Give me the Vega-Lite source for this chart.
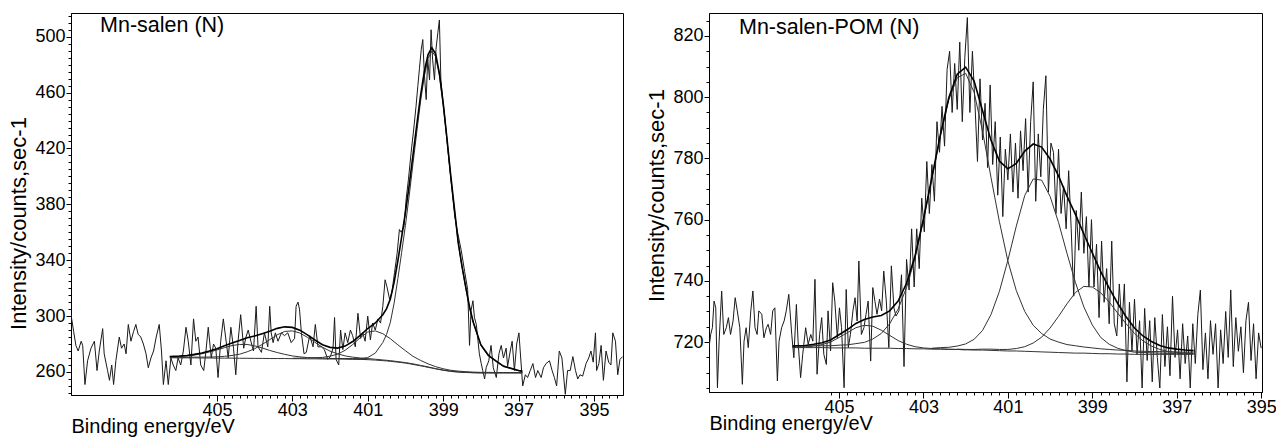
{
  "$schema": "https://vega.github.io/schema/vega-lite/v6.json",
  "background": "white",
  "padding": {"left": 7, "top": 12, "right": 0, "bottom": 0},
  "spacing": 21,
  "config": {
    "view": {"stroke": "black", "strokeWidth": 1},
    "axis": {"grid": false, "domainColor": "black", "tickColor": "black", "labelColor": "black", "titleColor": "black", "labelFont": "Liberation Sans", "titleFont": "Liberation Sans", "labelFontSize": 18, "titleFontSize": 22, "titleFontWeight": "normal", "labelOverlap": false, "labelFlush": false}
  },
  "datasets": {
    "labels": [
      {"panel": "L", "E": 408.1, "I": 503.6, "label": "Mn-salen (N)"},
      {"panel": "R", "E": 407.37, "I": 820.7, "label": "Mn-salen-POM (N)"}
    ],
    "rawL": [
      {"E":408.87,"I":301},{"E":408.80,"I":289},{"E":408.74,"I":279},{"E":408.68,"I":275},{"E":408.60,"I":282},{"E":408.56,"I":279},{"E":408.50,"I":251},{"E":408.43,"I":268},{"E":408.34,"I":277},{"E":408.25,"I":282},{"E":408.18,"I":261},{"E":408.12,"I":275},{"E":408.03,"I":291},{"E":407.99,"I":273},{"E":407.90,"I":261},{"E":407.85,"I":254},{"E":407.79,"I":265},{"E":407.74,"I":251},{"E":407.68,"I":268},{"E":407.59,"I":285},{"E":407.53,"I":277},{"E":407.46,"I":280},{"E":407.41,"I":273},{"E":407.35,"I":294},{"E":407.28,"I":282},{"E":407.21,"I":289},{"E":407.15,"I":294},{"E":407.09,"I":287},{"E":407.02,"I":285},{"E":406.95,"I":280},{"E":406.88,"I":273},{"E":406.82,"I":263},{"E":406.75,"I":270},{"E":406.68,"I":275},{"E":406.61,"I":285},{"E":406.53,"I":294},{"E":406.47,"I":275},{"E":406.42,"I":251},{"E":406.35,"I":268},{"E":406.29,"I":251},{"E":406.22,"I":270},{"E":406.16,"I":265},{"E":406.09,"I":261},{"E":406.03,"I":270},{"E":405.96,"I":265},{"E":405.89,"I":275},{"E":405.82,"I":292},{"E":405.76,"I":282},{"E":405.69,"I":265},{"E":405.62,"I":298},{"E":405.56,"I":282},{"E":405.50,"I":285},{"E":405.43,"I":265},{"E":405.35,"I":261},{"E":405.29,"I":275},{"E":405.23,"I":292},{"E":405.15,"I":270},{"E":405.09,"I":280},{"E":405.03,"I":277},{"E":404.97,"I":256},{"E":404.90,"I":282},{"E":404.83,"I":298},{"E":404.77,"I":285},{"E":404.70,"I":270},{"E":404.63,"I":292},{"E":404.56,"I":277},{"E":404.50,"I":258},{"E":404.44,"I":282},{"E":404.37,"I":301},{"E":404.29,"I":277},{"E":404.23,"I":285},{"E":404.17,"I":290},{"E":404.10,"I":282},{"E":404.03,"I":275},{"E":403.96,"I":307},{"E":403.91,"I":278},{"E":403.82,"I":274},{"E":403.74,"I":288},{"E":403.65,"I":278},{"E":403.60,"I":307},{"E":403.56,"I":288},{"E":403.51,"I":281},{"E":403.45,"I":288},{"E":403.38,"I":282},{"E":403.29,"I":288},{"E":403.21,"I":286},{"E":403.12,"I":288},{"E":403.03,"I":281},{"E":402.94,"I":284},{"E":402.90,"I":307},{"E":402.85,"I":310},{"E":402.81,"I":305},{"E":402.76,"I":288},{"E":402.69,"I":273},{"E":402.63,"I":274},{"E":402.54,"I":286},{"E":402.45,"I":278},{"E":402.39,"I":294},{"E":402.32,"I":278},{"E":402.23,"I":278},{"E":402.15,"I":276},{"E":402.06,"I":269},{"E":401.99,"I":271},{"E":401.92,"I":277},{"E":401.88,"I":299},{"E":401.84,"I":269},{"E":401.77,"I":265},{"E":401.72,"I":290},{"E":401.66,"I":276},{"E":401.60,"I":288},{"E":401.53,"I":281},{"E":401.46,"I":290},{"E":401.40,"I":286},{"E":401.33,"I":278},{"E":401.26,"I":302},{"E":401.19,"I":284},{"E":401.13,"I":288},{"E":401.07,"I":282},{"E":401.00,"I":300},{"E":400.93,"I":283},{"E":400.87,"I":295},{"E":400.80,"I":290},{"E":400.73,"I":298},{"E":400.66,"I":295},{"E":400.60,"I":307},{"E":400.54,"I":326},{"E":400.49,"I":321},{"E":400.42,"I":312},{"E":400.36,"I":317},{"E":400.29,"I":331},{"E":400.22,"I":345},{"E":400.16,"I":362},{"E":400.11,"I":360},{"E":400.04,"I":364},{"E":399.98,"I":384},{"E":399.92,"I":398},{"E":399.85,"I":417},{"E":399.78,"I":434},{"E":399.72,"I":450},{"E":399.67,"I":465},{"E":399.63,"I":477},{"E":399.58,"I":491},{"E":399.54,"I":498},{"E":399.50,"I":474},{"E":399.45,"I":455},{"E":399.41,"I":484},{"E":399.36,"I":469},{"E":399.32,"I":505},{"E":399.28,"I":484},{"E":399.23,"I":469},{"E":399.19,"I":491},{"E":399.14,"I":503},{"E":399.10,"I":512},{"E":399.06,"I":469},{"E":399.01,"I":455},{"E":398.97,"I":446},{"E":398.87,"I":418},{"E":398.78,"I":394},{"E":398.69,"I":371},{"E":398.61,"I":359},{"E":398.52,"I":347},{"E":398.43,"I":332},{"E":398.35,"I":319},{"E":398.30,"I":279},{"E":398.26,"I":304},{"E":398.21,"I":311},{"E":398.17,"I":299},{"E":398.12,"I":294},{"E":398.04,"I":273},{"E":397.99,"I":266},{"E":397.95,"I":261},{"E":397.90,"I":255},{"E":397.86,"I":263},{"E":397.79,"I":268},{"E":397.73,"I":279},{"E":397.67,"I":263},{"E":397.59,"I":256},{"E":397.52,"I":273},{"E":397.46,"I":279},{"E":397.40,"I":270},{"E":397.33,"I":277},{"E":397.29,"I":264},{"E":397.22,"I":275},{"E":397.17,"I":282},{"E":397.11,"I":261},{"E":397.05,"I":280},{"E":396.99,"I":288},{"E":396.93,"I":265},{"E":396.89,"I":250},{"E":396.82,"I":258},{"E":396.76,"I":256},{"E":396.69,"I":261},{"E":396.62,"I":266},{"E":396.55,"I":256},{"E":396.49,"I":261},{"E":396.40,"I":256},{"E":396.34,"I":263},{"E":396.27,"I":266},{"E":396.18,"I":268},{"E":396.11,"I":261},{"E":396.05,"I":256},{"E":395.99,"I":250},{"E":395.92,"I":275},{"E":395.85,"I":270},{"E":395.76,"I":244},{"E":395.70,"I":261},{"E":395.63,"I":261},{"E":395.56,"I":271},{"E":395.49,"I":261},{"E":395.43,"I":255},{"E":395.37,"I":258},{"E":395.30,"I":257},{"E":395.21,"I":266},{"E":395.14,"I":270},{"E":395.08,"I":275},{"E":395.02,"I":267},{"E":394.96,"I":288},{"E":394.93,"I":261},{"E":394.87,"I":266},{"E":394.81,"I":279},{"E":394.75,"I":254},{"E":394.68,"I":275},{"E":394.61,"I":267},{"E":394.55,"I":265},{"E":394.50,"I":288},{"E":394.43,"I":282},{"E":394.37,"I":258},{"E":394.31,"I":269},{"E":394.24,"I":271}
    ],
    "fitL": [
      {"E":406.25,"bg":270.2,"a":270.8,"b":270.5,"env":271.1},
      {"E":406.0,"bg":270.1,"a":271.0,"b":270.5,"env":271.4},
      {"E":405.8,"bg":270.1,"a":271.4,"b":270.5,"env":271.8},
      {"E":405.6,"bg":270.1,"a":272.1,"b":270.6,"env":272.6},
      {"E":405.4,"bg":270.0,"a":273.0,"b":270.6,"env":273.6},
      {"E":405.2,"bg":270.0,"a":274.3,"b":270.7,"env":275.0},
      {"E":405.0,"bg":269.9,"a":275.7,"b":270.8,"env":276.6},
      {"E":404.8,"bg":269.9,"a":277.4,"b":271.2,"env":278.7},
      {"E":404.6,"bg":269.9,"a":278.9,"b":271.8,"env":280.8},
      {"E":404.4,"bg":269.8,"a":279.7,"b":272.7,"env":282.6},
      {"E":404.2,"bg":269.8,"a":279.7,"b":274.4,"env":284.5},
      {"E":404.0,"bg":269.7,"a":278.7,"b":276.6,"env":285.8},
      {"E":403.8,"bg":269.7,"a":277.2,"b":279.7,"env":287.4},
      {"E":403.6,"bg":269.6,"a":275.4,"b":283.1,"env":289.1},
      {"E":403.4,"bg":269.6,"a":273.9,"b":286.6,"env":291.2},
      {"E":403.2,"bg":269.6,"a":272.6,"b":289.0,"env":292.3},
      {"E":403.0,"bg":269.5,"a":271.5,"b":289.4,"c":269.8,"env":291.9},
      {"E":402.8,"bg":269.5,"a":270.8,"b":287.9,"c":269.9,"env":289.9},
      {"E":402.6,"bg":269.4,"a":270.3,"b":284.8,"c":270.0,"env":286.5},
      {"E":402.4,"bg":269.4,"a":270.0,"b":281.2,"c":270.2,"env":282.9},
      {"E":402.2,"bg":269.3,"a":269.8,"b":277.7,"c":270.4,"env":279.5},
      {"E":402.0,"bg":269.3,"a":269.7,"b":274.9,"c":271.3,"m":269.6,"env":277.6},
      {"E":401.8,"bg":269.3,"a":269.6,"b":273.0,"c":272.7,"m":269.6,"env":277.1},
      {"E":401.6,"bg":269.2,"a":269.5,"b":271.5,"c":275.5,"m":269.6,"env":278.5},
      {"E":401.4,"bg":269.1,"a":269.3,"b":270.6,"c":279.6,"m":269.5,"env":281.8},
      {"E":401.2,"bg":269.0,"a":269.2,"b":270.0,"c":284.5,"m":269.5,"env":286.2},
      {"E":401.0,"bg":268.8,"a":269.0,"b":269.6,"c":288.6,"m":270.3,"env":291.1},
      {"E":400.8,"bg":268.5,"b":269.1,"c":289.4,"m":273.5,"env":295.1},
      {"E":400.6,"bg":268.1,"b":268.6,"c":287.4,"m":281.1,"env":301.0},
      {"E":400.5,"bg":267.9,"m":286.9,"env":305.4},
      {"E":400.4,"bg":267.6,"b":268.1,"c":283.8,"m":295.6,"env":312.3},
      {"E":400.3,"bg":267.3,"m":309.3,"env":324.1},
      {"E":400.2,"bg":267.0,"b":267.4,"c":279.4,"m":327.0,"env":339.8},
      {"E":400.1,"bg":266.7,"m":345.7,"env":356.7},
      {"E":400.0,"bg":266.3,"b":266.7,"c":275.2,"m":365.0,"env":374.3},
      {"E":399.9,"bg":265.9,"m":386.2,"env":393.8},
      {"E":399.8,"bg":265.4,"b":265.8,"c":271.2,"m":409.1,"env":415.3},
      {"E":399.7,"bg":264.9,"m":431.7,"env":436.8},
      {"E":399.6,"bg":264.4,"b":264.7,"c":268.3,"m":453.5,"env":457.7},
      {"E":399.5,"bg":263.9,"m":471.6,"env":475.0},
      {"E":399.4,"bg":263.3,"b":263.6,"c":265.8,"m":484.4,"env":487.2},
      {"E":399.3,"bg":262.8,"m":489.7,"env":492.0},
      {"E":399.2,"bg":262.2,"b":262.4,"c":263.8,"m":485.8,"env":487.7},
      {"E":399.1,"bg":261.7,"m":472.4,"env":473.9},
      {"E":399.0,"bg":261.2,"b":261.4,"c":262.3,"m":451.4,"env":452.7},
      {"E":398.9,"bg":260.8,"m":426.5,"env":427.5},
      {"E":398.8,"bg":260.4,"b":260.6,"c":261.2,"m":400.0,"env":400.9},
      {"E":398.7,"bg":260.1,"m":376.0,"env":376.8},
      {"E":398.6,"bg":259.9,"b":260.1,"c":260.6,"m":352.0,"env":352.7},
      {"E":398.5,"bg":259.7,"m":335.0,"env":335.7},
      {"E":398.4,"bg":259.6,"b":259.8,"c":260.2,"m":320.0,"env":320.7},
      {"E":398.3,"bg":259.5,"m":306.0,"env":306.6},
      {"E":398.2,"bg":259.4,"b":259.5,"c":259.9,"m":295.0,"env":295.6},
      {"E":398.0,"bg":259.3,"b":259.4,"c":259.7,"m":279.0,"env":279.5},
      {"E":397.8,"bg":259.3,"c":259.7,"m":271.5,"env":271.9},
      {"E":397.6,"bg":259.3,"c":259.6,"m":267.5,"env":267.9},
      {"E":397.4,"bg":259.3,"c":259.6,"m":263.8,"env":264.2},
      {"E":397.2,"bg":259.3,"c":259.6,"m":262.3,"env":262.6},
      {"E":397.0,"bg":259.3,"b":259.4,"c":259.5,"m":260.8,"env":261.1},
      {"E":396.9,"bg":259.3,"b":259.4,"c":259.5,"m":260.3,"env":260.6}
    ],
    "rawR": [
      {"E":408.08,"I":718.2},{"E":408.04,"I":722.5},{"E":408.0,"I":724.7},{"E":407.96,"I":733.4},{"E":407.92,"I":731.2},{"E":407.88,"I":705.1},{"E":407.84,"I":720.3},{"E":407.78,"I":736.7},{"E":407.73,"I":722.5},{"E":407.67,"I":724.7},{"E":407.62,"I":728},{"E":407.57,"I":722.5},{"E":407.51,"I":726.9},{"E":407.46,"I":734.5},{"E":407.41,"I":730.2},{"E":407.35,"I":724.7},{"E":407.29,"I":706.2},{"E":407.25,"I":720.3},{"E":407.2,"I":724.7},{"E":407.15,"I":718.2},{"E":407.09,"I":730.2},{"E":407.04,"I":736.7},{"E":406.99,"I":724.7},{"E":406.94,"I":722.5},{"E":406.9,"I":730.2},{"E":406.83,"I":729.1},{"E":406.78,"I":721.4},{"E":406.72,"I":724.7},{"E":406.68,"I":725.8},{"E":406.62,"I":722.5},{"E":406.57,"I":730.2},{"E":406.52,"I":731.2},{"E":406.46,"I":707.3},{"E":406.42,"I":720.3},{"E":406.36,"I":724.7},{"E":406.3,"I":726.9},{"E":406.25,"I":730.2},{"E":406.19,"I":735.6},{"E":406.12,"I":722.5},{"E":406.07,"I":714.9},{"E":406.01,"I":732.3},{"E":405.97,"I":720.3},{"E":405.91,"I":708.4},{"E":405.86,"I":716},{"E":405.79,"I":724.7},{"E":405.73,"I":719.3},{"E":405.67,"I":722.5},{"E":405.62,"I":720.3},{"E":405.57,"I":740.5},{"E":405.52,"I":709.5},{"E":405.46,"I":722.5},{"E":405.41,"I":728},{"E":405.36,"I":716},{"E":405.3,"I":712.7},{"E":405.26,"I":730.2},{"E":405.2,"I":717.1},{"E":405.15,"I":739.4},{"E":405.1,"I":733.4},{"E":405.04,"I":721.4},{"E":404.99,"I":731.2},{"E":404.94,"I":724.7},{"E":404.88,"I":705.1},{"E":404.83,"I":737.2},{"E":404.78,"I":718.2},{"E":404.73,"I":722.5},{"E":404.67,"I":730.2},{"E":404.62,"I":734.5},{"E":404.57,"I":726.9},{"E":404.53,"I":746.5},{"E":404.47,"I":722.5},{"E":404.41,"I":724.7},{"E":404.36,"I":729.1},{"E":404.31,"I":733.4},{"E":404.25,"I":713.8},{"E":404.2,"I":737.8},{"E":404.15,"I":733.4},{"E":404.1,"I":729.1},{"E":404.04,"I":734},{"E":403.99,"I":730.2},{"E":403.94,"I":743.2},{"E":403.88,"I":733.4},{"E":403.82,"I":718.2},{"E":403.76,"I":744.9},{"E":403.7,"I":731.2},{"E":403.65,"I":728.5},{"E":403.58,"I":730.2},
      {"E":403.52,"I":742},{"E":403.46,"I":712},{"E":403.40,"I":747},{"E":403.34,"I":737},{"E":403.28,"I":757},{"E":403.22,"I":738},{"E":403.16,"I":757},{"E":403.10,"I":744},{"E":403.04,"I":767},{"E":402.98,"I":756},{"E":402.92,"I":779},{"E":402.86,"I":762},{"E":402.80,"I":778},{"E":402.74,"I":766},{"E":402.68,"I":792},{"E":402.62,"I":782},{"E":402.56,"I":797},{"E":402.50,"I":784},{"E":402.44,"I":809},{"E":402.38,"I":815},{"E":402.32,"I":795},{"E":402.26,"I":811},{"E":402.20,"I":796},{"E":402.14,"I":818},{"E":402.08,"I":792},{"E":402.02,"I":813},{"E":401.96,"I":826},{"E":401.90,"I":795},{"E":401.84,"I":815},{"E":401.78,"I":798},{"E":401.72,"I":779},{"E":401.66,"I":806},{"E":401.60,"I":786},{"E":401.54,"I":798},{"E":401.48,"I":777},{"E":401.42,"I":804},{"E":401.36,"I":778},{"E":401.30,"I":792},{"E":401.24,"I":768},{"E":401.18,"I":787},{"E":401.12,"I":761},{"E":401.06,"I":783},{"E":401.00,"I":773},{"E":400.94,"I":788},{"E":400.88,"I":769},{"E":400.82,"I":785},{"E":400.76,"I":767},{"E":400.70,"I":789},{"E":400.64,"I":776},{"E":400.58,"I":793},{"E":400.52,"I":769},{"E":400.46,"I":792},{"E":400.40,"I":805},{"E":400.34,"I":766},{"E":400.28,"I":788},{"E":400.22,"I":774},{"E":400.16,"I":796},{"E":400.10,"I":807},{"E":400.04,"I":769},{"E":399.98,"I":785},{"E":399.92,"I":782},{"E":399.86,"I":762},{"E":399.80,"I":783},{"E":399.74,"I":762},{"E":399.68,"I":771},{"E":399.62,"I":757},{"E":399.56,"I":776},{"E":399.50,"I":757},{"E":399.44,"I":735},{"E":399.38,"I":763},{"E":399.32,"I":750},{"E":399.26,"I":769},{"E":399.20,"I":749},{"E":399.14,"I":761},{"E":399.08,"I":738},{"E":399.02,"I":760},{"E":398.96,"I":738},{"E":398.90,"I":752},{"E":398.84,"I":728},{"E":398.78,"I":753},{"E":398.72,"I":733},{"E":398.66,"I":744},{"E":398.60,"I":726},{"E":398.54,"I":753},{"E":398.48,"I":726},{"E":398.42,"I":722},{"E":398.36,"I":739},{"E":398.30,"I":725},{"E":398.24,"I":739},{"E":398.18,"I":707},{"E":398.12,"I":733},{"E":398.06,"I":717},{"E":398.00,"I":734},{"E":397.94,"I":716},{"E":397.88,"I":727},{"E":397.82,"I":705},{"E":397.76,"I":731},{"E":397.70,"I":714},{"E":397.64,"I":727},{"E":397.58,"I":707},{"E":397.52,"I":728},{"E":397.46,"I":715},{"E":397.40,"I":705},{"E":397.34,"I":729},{"E":397.28,"I":712},{"E":397.22,"I":725},{"E":397.16,"I":709},{"E":397.10,"I":735},{"E":397.04,"I":715},{"E":396.98,"I":724},{"E":396.92,"I":708},{"E":396.86,"I":726},{"E":396.80,"I":713},{"E":396.74,"I":722},{"E":396.68,"I":705},{"E":396.62,"I":726},{"E":396.56,"I":713},{"E":396.50,"I":729},{"E":396.44,"I":737},{"E":396.38,"I":711},{"E":396.32,"I":723},{"E":396.26,"I":708},{"E":396.20,"I":727},{"E":396.14,"I":716},{"E":396.08,"I":726},{"E":396.02,"I":705},{"E":395.96,"I":724},{"E":395.90,"I":713},{"E":395.84,"I":730},{"E":395.78,"I":715},{"E":395.72,"I":737},{"E":395.66,"I":712},{"E":395.60,"I":728},{"E":395.54,"I":717},{"E":395.48,"I":725},{"E":395.42,"I":710},{"E":395.36,"I":727},{"E":395.30,"I":733},{"E":395.24,"I":714},{"E":395.18,"I":726},{"E":395.12,"I":708},{"E":395.06,"I":723},{"E":395.00,"I":718}
    ],
    "fitR": [
      {"E":406.1,"bg":718.2,"p1":718.3,"p2":718.6,"env":718.7},
      {"E":406.0,"bg":718.2,"p1":718.3,"p2":718.7,"env":718.8},
      {"E":405.8,"bg":718.2,"p1":718.4,"p2":718.7,"env":718.9},
      {"E":405.6,"bg":718.2,"p1":718.7,"p2":718.8,"env":719.3},
      {"E":405.4,"bg":718.2,"p1":719.2,"p2":718.8,"env":719.8},
      {"E":405.2,"bg":718.1,"p1":720.0,"p2":718.8,"env":720.7},
      {"E":405.0,"bg":718.1,"p1":721.5,"p2":719.0,"env":722.4},
      {"E":404.8,"bg":718.1,"p1":723.1,"p2":719.1,"env":724.1},
      {"E":404.6,"bg":718.1,"p1":724.7,"p2":719.5,"env":726.1},
      {"E":404.4,"bg":718.0,"p1":725.5,"p2":719.9,"env":727.4},
      {"E":404.2,"bg":718.0,"p1":725.2,"p2":721.0,"env":728.2},
      {"E":404.0,"bg":718.0,"p1":723.9,"p2":722.8,"env":728.7},
      {"E":403.8,"bg":718.0,"p1":722.2,"p2":726.0,"env":730.2},
      {"E":403.6,"bg":717.9,"p1":720.5,"p2":730.8,"env":733.4},
      {"E":403.4,"bg":717.9,"p1":719.3,"p2":737.8,"env":739.2},
      {"E":403.2,"bg":717.8,"p1":718.5,"p2":747.4,"env":748.1},
      {"E":403.0,"bg":717.8,"p1":718.1,"p2":759.9,"env":760.2},
      {"E":402.8,"bg":717.7,"p1":717.9,"p2":773.3,"p3":718.0,"env":773.8},
      {"E":402.6,"bg":717.7,"p1":717.8,"p2":787.1,"p3":718.2,"env":787.7},
      {"E":402.4,"bg":717.6,"p1":717.7,"p2":799.1,"p3":718.3,"env":799.8},
      {"E":402.2,"bg":717.6,"p1":717.6,"p2":806.3,"p3":718.7,"p4":717.7,"env":807.5},
      {"E":402.0,"bg":717.5,"p1":717.5,"p2":807.8,"p3":719.4,"p4":717.6,"env":809.8},
      {"E":401.8,"bg":717.4,"p2":801.6,"p3":720.9,"p4":717.6,"env":805.3},
      {"E":401.6,"bg":717.4,"p2":788.9,"p3":723.8,"p4":717.7,"env":795.6},
      {"E":401.4,"bg":717.3,"p2":773.8,"p3":729.0,"p4":717.7,"env":785.9},
      {"E":401.2,"bg":717.2,"p2":759.3,"p3":736.6,"p4":717.6,"env":779.1},
      {"E":401.0,"bg":717.1,"p2":746.5,"p3":746.7,"p4":717.6,"env":776.6},
      {"E":400.8,"bg":717.1,"p2":736.8,"p3":757.9,"p4":717.9,"env":778.4},
      {"E":400.6,"bg":717.0,"p2":730.0,"p3":767.9,"p4":718.5,"env":782.4},
      {"E":400.4,"bg":716.9,"p2":725.5,"p3":773.3,"p4":719.7,"env":784.7},
      {"E":400.2,"bg":716.8,"p2":722.8,"p3":772.9,"p4":721.6,"env":783.7},
      {"E":400.0,"bg":716.7,"p2":721.0,"p3":767.6,"p4":724.6,"env":779.8},
      {"E":399.8,"bg":716.6,"p2":720.0,"p3":759.1,"p4":728.4,"env":774.3},
      {"E":399.6,"bg":716.5,"p2":719.2,"p3":749.0,"p4":732.5,"env":767.7},
      {"E":399.4,"bg":716.4,"p2":718.8,"p3":739.5,"p4":736.2,"env":761.7},
      {"E":399.2,"bg":716.4,"p2":718.4,"p3":731.5,"p4":738.2,"env":755.3},
      {"E":399.0,"bg":716.3,"p2":718.1,"p3":725.6,"p4":738.0,"env":749.1},
      {"E":398.8,"bg":716.2,"p2":717.8,"p3":721.5,"p4":736.1,"env":743.0},
      {"E":398.6,"bg":716.2,"p2":717.6,"p3":719.3,"p4":733.1,"env":737.6},
      {"E":398.4,"bg":716.1,"p2":717.4,"p3":718.0,"p4":729.5,"env":732.7},
      {"E":398.2,"bg":716.1,"p2":717.3,"p3":717.2,"p4":726.0,"env":728.3},
      {"E":398.0,"bg":716.0,"p2":717.1,"p3":716.7,"p4":722.8,"env":724.6},
      {"E":397.8,"bg":716.0,"p2":717.0,"p3":716.6,"p4":720.4,"env":722.0},
      {"E":397.6,"bg":716.0,"p2":716.9,"p3":716.5,"p4":718.7,"env":720.2},
      {"E":397.4,"bg":716.0,"p2":716.9,"p3":716.4,"p4":717.6,"env":718.9},
      {"E":397.2,"bg":716.0,"p2":716.8,"p3":716.3,"p4":716.9,"env":718.1},
      {"E":397.0,"bg":716.0,"p2":716.8,"p3":716.3,"p4":716.6,"env":717.7},
      {"E":396.8,"bg":716.0,"p2":716.7,"p3":716.2,"p4":716.4,"env":717.4},
      {"E":396.6,"bg":716.0,"p2":716.7,"p3":716.2,"p4":716.3,"env":717.2}
    ]
  },
  "hconcat": [
    {
      "width": 552,
      "height": 382,
      "resolve": {"axis": {"x": "independent", "y": "independent"}},
      "layer": [
        {
          "data": {"name": "rawL"},
          "mark": {"type": "line", "color": "#1a1a1a", "strokeWidth": 1, "clip": true},
          "encoding": {
            "x": {"field": "E", "type": "quantitative",
              "scale": {"domain": [394.23, 408.87], "reverse": true, "nice": false, "zero": false},
              "axis": {"orient": "bottom", "title": "Binding energy/eV", "titleFontSize": 20, "titleAnchor": "end", "titleAlign": "left", "titlePadding": -3, "labelPadding": 0, "tickSize": 6, "format": "d",
                "values": [405, 403, 401, 399, 397, 395]}},
            "y": {"field": "I", "type": "quantitative",
              "scale": {"domain": [243.5, 517], "nice": false, "zero": false},
              "axis": {"orient": "left", "title": "Intensity/counts,sec-1", "titlePadding": 4, "titleY": 210, "labelPadding": 1, "tickSize": 5, "format": "d",
                "values": [260, 300, 340, 380, 420, 460, 500]}}
          }
        },
        {
          "data": {"name": "fitL"},
          "transform": [{"fold": ["bg", "a", "b", "c", "m"], "as": ["curve", "val"]}, {"filter": {"field": "val", "valid": true}}],
          "mark": {"type": "line", "color": "#333333", "strokeWidth": 1},
          "encoding": {
            "x": {"field": "E", "type": "quantitative",
              "axis": {"orient": "bottom", "title": null, "labels": false, "domain": false, "tickSize": 3,
                "values": [405.2,404.8,404.6,404.4,404.2,404,403.8,403.6,403.4,403.2,402.8,402.6,402.4,402.2,402,401.8,401.6,401.4,401.2,400.8,400.6,400.4,400.2,400,399.8,399.6,399.4,399.2,398.8,398.6,398.4,398.2,398,397.8,397.6,397.4,397.2,396.8,396.6,396.4,396.2,396,395.8,395.6,395.4,395.2,394.8,394.6,394.4]}},
            "y": {"field": "val", "type": "quantitative",
              "axis": {"orient": "left", "title": null, "labels": false, "domain": false, "tickSize": 3,
                "values": [245,250,255,265,270,275,280,285,290,295,305,310,315,320,325,330,335,345,350,355,360,365,370,375,385,390,395,400,405,410,415,425,430,435,440,445,450,455,465,470,475,480,485,490,495,505,510,515]}},
            "detail": {"field": "curve"}
          }
        },
        {
          "data": {"name": "fitL"},
          "mark": {"type": "line", "color": "black", "strokeWidth": 1.6},
          "encoding": {
            "x": {"field": "E", "type": "quantitative", "axis": null},
            "y": {"field": "env", "type": "quantitative", "axis": null}
          }
        },
        {
          "data": {"name": "labels"},
          "transform": [{"filter": "datum.panel == 'L'"}],
          "mark": {"type": "text", "align": "left", "baseline": "alphabetic", "font": "Liberation Sans", "fontSize": 21.5, "color": "black"},
          "encoding": {
            "x": {"field": "E", "type": "quantitative", "axis": null},
            "y": {"field": "I", "type": "quantitative", "axis": null},
            "text": {"field": "label"}
          }
        }
      ]
    },
    {
      "width": 553,
      "height": 379,
      "resolve": {"axis": {"x": "independent", "y": "independent"}},
      "layer": [
        {
          "data": {"name": "rawR"},
          "mark": {"type": "line", "color": "#1a1a1a", "strokeWidth": 1, "clip": true},
          "encoding": {
            "x": {"field": "E", "type": "quantitative",
              "scale": {"domain": [394.98, 408.08], "reverse": true, "nice": false, "zero": false},
              "axis": {"orient": "bottom", "title": "Binding energy/eV", "titleFontSize": 20, "titleAnchor": "end", "titleAlign": "left", "titlePadding": -3, "labelPadding": 0, "tickSize": 6, "format": "d",
                "values": [405, 403, 401, 399, 397, 395]}},
            "y": {"field": "I", "type": "quantitative",
              "scale": {"domain": [703.7, 827.5], "nice": false, "zero": false},
              "axis": {"orient": "left", "title": "Intensity/counts,sec-1", "titlePadding": 4, "titleY": 182, "labelPadding": 1, "tickSize": 5, "format": "d",
                "values": [720, 740, 760, 780, 800, 820]}}
          }
        },
        {
          "data": {"name": "fitR"},
          "transform": [{"fold": ["bg", "p1", "p2", "p3", "p4"], "as": ["curve", "val"]}, {"filter": {"field": "val", "valid": true}}],
          "mark": {"type": "line", "color": "#333333", "strokeWidth": 1},
          "encoding": {
            "x": {"field": "E", "type": "quantitative",
              "axis": {"orient": "bottom", "title": null, "labels": false, "domain": false, "tickSize": 3,
                "values": [405.2,404.8,404.6,404.4,404.2,404,403.8,403.6,403.4,403.2,402.8,402.6,402.4,402.2,402,401.8,401.6,401.4,401.2,400.8,400.6,400.4,400.2,400,399.8,399.6,399.4,399.2,398.8,398.6,398.4,398.2,398,397.8,397.6,397.4,397.2,396.8,396.6,396.4,396.2,396,395.8,395.6,395.4,395.2]}},
            "y": {"field": "val", "type": "quantitative",
              "axis": {"orient": "left", "title": null, "labels": false, "domain": false, "tickSize": 3,
                "values": [705,710,715,725,730,735,745,750,755,765,770,775,785,790,795,805,810,815,825]}},
            "detail": {"field": "curve"}
          }
        },
        {
          "data": {"name": "fitR"},
          "mark": {"type": "line", "color": "black", "strokeWidth": 1.6},
          "encoding": {
            "x": {"field": "E", "type": "quantitative", "axis": null},
            "y": {"field": "env", "type": "quantitative", "axis": null}
          }
        },
        {
          "data": {"name": "labels"},
          "transform": [{"filter": "datum.panel == 'R'"}],
          "mark": {"type": "text", "align": "left", "baseline": "alphabetic", "font": "Liberation Sans", "fontSize": 21.5, "color": "black"},
          "encoding": {
            "x": {"field": "E", "type": "quantitative", "axis": null},
            "y": {"field": "I", "type": "quantitative", "axis": null},
            "text": {"field": "label"}
          }
        }
      ]
    }
  ]
}
